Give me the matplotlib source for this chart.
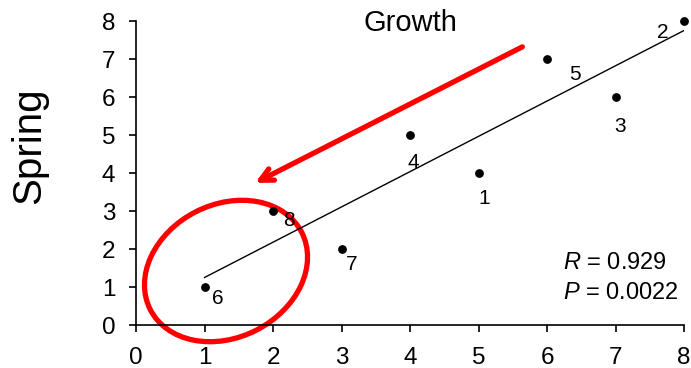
import numpy as np
import matplotlib
matplotlib.use("Agg")
import matplotlib.pyplot as plt
from matplotlib.patches import Ellipse
from matplotlib import transforms

plt.rcParams["font.family"] = ["Liberation Sans", "DejaVu Sans"]
plt.rcParams["mathtext.fontset"] = "custom"
plt.rcParams["mathtext.rm"] = "Liberation Sans"
plt.rcParams["mathtext.it"] = "Liberation Sans:italic"

# growth rank vs spring rank for each site
growth = [5, 8, 7, 4, 6, 1, 3, 2]
spring = [4, 8, 6, 5, 7, 1, 2, 3]
site_ids = ["1", "2", "3", "4", "5", "6", "7", "8"]
r_text = r"$R$ = 0.929"
p_text = r"$P$ = 0.0022"

# label offsets in pixels (right, down) relative to each dot
label_offsets = {"1": (6, 25), "2": (-21, 11), "3": (5, 29), "4": (3, 27),
                 "5": (28, 16), "6": (13, 12), "7": (10, 15), "8": (16, 9)}

fig = plt.figure(figsize=(6.91, 3.68), dpi=100)
ax = fig.add_axes([136 / 691, 43 / 368, 548 / 691, 304 / 368])

ax.scatter(growth, spring, s=28, color="black", zorder=3, clip_on=False)
for x, y, sid in zip(growth, spring, site_ids):
    dx, dy = label_offsets[sid]
    ax.annotate(sid, (x, y), xytext=(dx, -dy), textcoords="offset pixels",
                ha="center", va="center", fontsize=15)

# least-squares trend line over the data range
slope, intercept = np.polyfit(growth, spring, 1)
xs = np.array([min(growth), max(growth)])
ax.plot(xs, slope * xs + intercept, color="black", lw=1.0)

ax.text(6.23, 1.63, r_text, ha="left", va="center", fontsize=17)
ax.text(6.23, 0.84, p_text, ha="left", va="center", fontsize=17)

ax.set_xlim(0, 8)
ax.set_ylim(0, 8)
ax.set_xticks(range(9))
ax.set_yticks(range(9))
for side in ["top", "right"]:
    ax.spines[side].set_visible(False)
for side in ["left", "bottom"]:
    ax.spines[side].set_linewidth(1.2)
ax.tick_params(axis="both", direction="out", length=5, width=1.2, labelsize=17.5)
ax.tick_params(axis="y", pad=10)
ax.tick_params(axis="x", pad=11)

ax.text(0.5, 0.967, "Growth", transform=ax.transAxes, ha="center",
        va="baseline", fontsize=21)
fig.text(10 / 691, 1 - 146 / 368, "Spring", rotation=90, ha="left",
         va="center", fontsize=29)

# red highlight: arrow pointing at the lowest site, circled
ax.annotate("", xy=(1.74, 3.74), xytext=(5.64, 7.32),
            arrowprops=dict(arrowstyle="->,head_length=0.9,head_width=0.45",
                            color="#ff0000", lw=3.8, shrinkA=0, shrinkB=0,
                            capstyle="round"),
            annotation_clip=False)
ring_trans = fig.dpi_scale_trans + transforms.ScaledTranslation(1.314, 1.421, ax.transData)
ring = Ellipse((0, 0), 1.70, 1.33, angle=27, transform=ring_trans,
               fill=False, edgecolor="#ff0000", lw=3.8, clip_on=False)
ax.add_patch(ring)

fig.savefig("out.png", dpi=100)
